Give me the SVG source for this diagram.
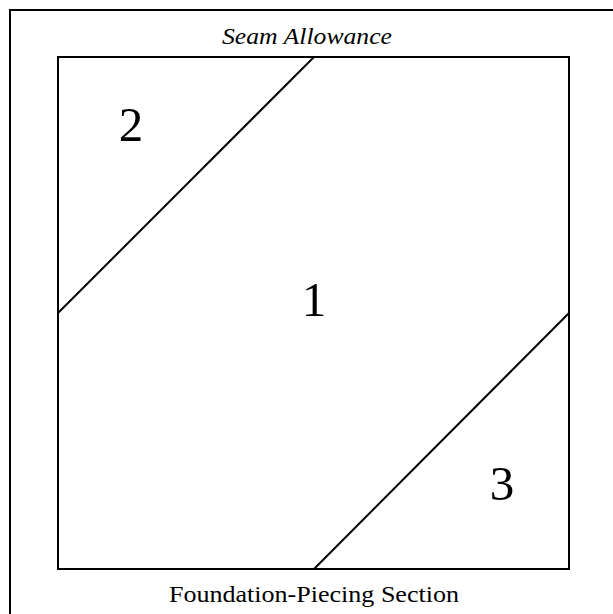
<svg xmlns="http://www.w3.org/2000/svg" width="613" height="614" viewBox="0 0 613 614">
<style>
.ln{fill:none;stroke:#000;stroke-width:2}
.lbl{font-family:"Liberation Serif","DejaVu Serif",serif;font-size:24px;text-anchor:middle;fill:#000}
.num{font-family:"Liberation Serif","DejaVu Serif",serif;font-size:49px;text-anchor:middle;fill:#000}
</style>
<rect width="613" height="614" fill="#fff"/>
<g id="frame"><rect class="ln" x="10" y="10" width="620" height="620"/></g>
<g id="square"><rect class="ln" x="58" y="57" width="511" height="512"/></g>
<g id="connectors">
<line class="ln" x1="314" y1="57" x2="58" y2="313"/>
<line class="ln" x1="569" y1="313" x2="314" y2="569"/>
</g>
<g id="piece2"><text class="num" x="131" y="141">2</text></g>
<g id="piece1"><text class="num" x="314" y="316">1</text></g>
<g id="piece3"><text class="num" x="502" y="500">3</text></g>
<g id="seam"><text class="lbl" x="307" y="44" font-style="italic" textLength="170" lengthAdjust="spacingAndGlyphs">Seam Allowance</text></g>
<g id="section"><text class="lbl" x="314" y="602" textLength="290" lengthAdjust="spacingAndGlyphs">Foundation-Piecing Section</text></g>
</svg>
